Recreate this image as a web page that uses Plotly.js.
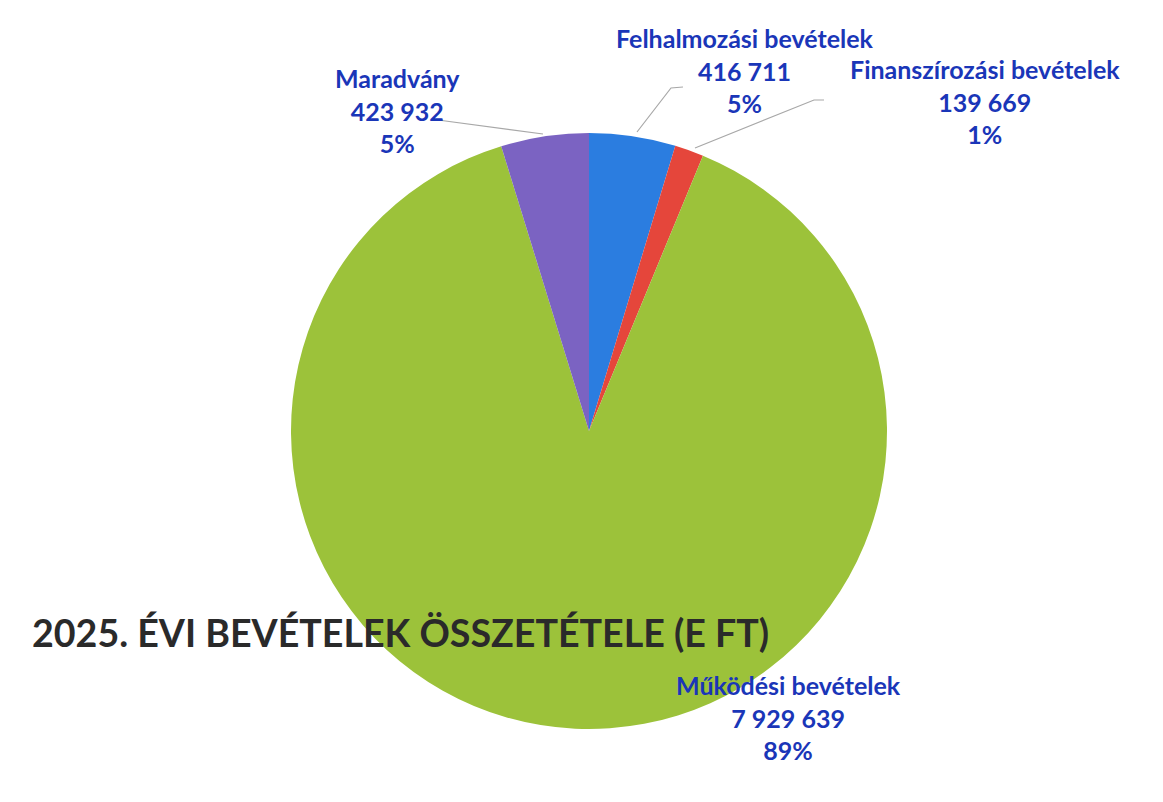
<!DOCTYPE html>
<html>
<head>
<meta charset="utf-8">
<script src="https://cdn.plot.ly/plotly-3.0.1.min.js"></script>
<style>html,body{margin:0;padding:0;background:#fff;}#chart{width:1163px;height:802px;}</style>
</head>
<body>
<div id="chart"></div>
<script>
const categories = ["Felhalmozási bevételek", "Finanszírozási bevételek", "Működési bevételek", "Maradvány"];
const values = [416711, 139669, 7929639, 423932];
const valueLabels = ["416 711", "139 669", "7 929 639", "423 932"];
const percentLabels = ["5%", "1%", "89%", "5%"];
const colors = ["#2b7de0", "#e5463b", "#9cc23a", "#7b63c2"];
const chartTitle = "2025. ÉVI BEVÉTELEK ÖSSZETÉTELE (E FT)";

const W = 1163, H = 802;
const px = x => x / W;
const py = y => 1 - y / H;

// label anchor positions (pixels, centre of text block)
const labelPos = [[745, 71], [985, 102], [788, 717], [397, 110]];
// leader lines (pixels)
const leaders = [
  [[683, 87], [671, 88], [637, 132]],
  [[824, 100], [814, 100], [695, 148]],
  null,
  [[438, 120], [543, 134]]
];

const textColor = "#1a36b8";
const annotations = categories.map((c, i) => ({
  xref: "paper", yref: "paper",
  x: px(labelPos[i][0]), y: py(labelPos[i][1]),
  xanchor: "center", yanchor: "middle",
  showarrow: false, align: "center",
  text: "<b>" + c + "</b><br><b>" + valueLabels[i] + "</b><br><b>" + percentLabels[i] + "</b>",
  font: {family: "Lato, 'Open Sans', sans-serif", size: 25, color: textColor}
}));
annotations.push({
  xref: "paper", yref: "paper", x: px(30), y: py(632),
  xanchor: "left", yanchor: "middle", showarrow: false,
  text: "<b>" + chartTitle + "</b>",
  font: {family: "Lato, sans-serif", size: 37.6, color: "#2a2a2a"}
});

const shapes = leaders.filter(l => l).map(l => ({
  type: "path", xref: "paper", yref: "paper",
  path: l.map((p, j) => (j ? "L" : "M") + px(p[0]) + "," + py(p[1])).join(" "),
  line: {color: "#a8a8a8", width: 1.2}
}));

const data = [{
  type: "pie",
  labels: categories,
  values: values,
  sort: false,
  direction: "clockwise",
  rotation: 0,
  textinfo: "none",
  hoverinfo: "label+value+percent",
  marker: {colors: colors, line: {width: 0}},
  domain: {x: [px(291), px(887)], y: [py(731), py(131)]},
  showlegend: false
}];

const layout = {
  width: W, height: H,
  margin: {l: 0, r: 0, t: 0, b: 0},
  paper_bgcolor: "#ffffff",
  annotations: annotations,
  shapes: shapes,
  showlegend: false
};

Plotly.newPlot("chart", data, layout, {displayModeBar: false, staticPlot: true});
</script>
</body>
</html>
